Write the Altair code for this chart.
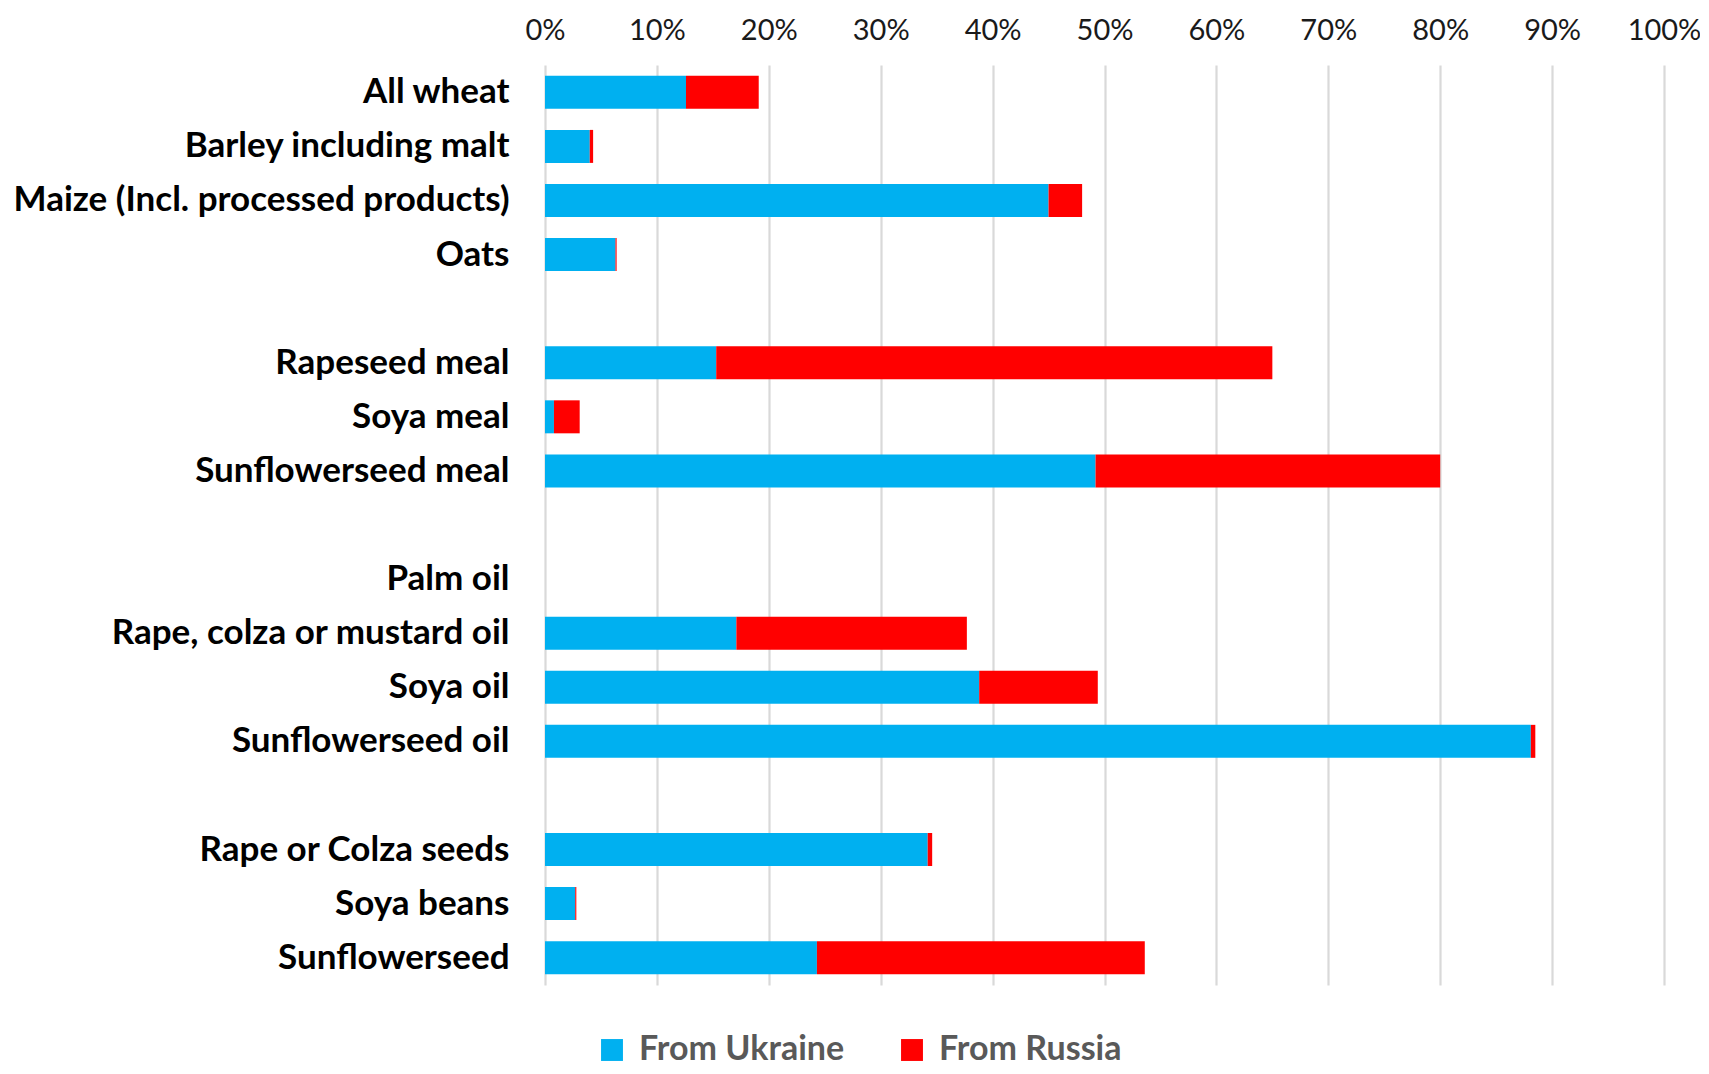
import altair as alt
import pandas as pd

categories = ["All wheat", "Barley including malt", "Maize (Incl. processed products)", "Oats", " ",
              "Rapeseed meal", "Soya meal", "Sunflowerseed meal", "  ",
              "Palm oil", "Rape, colza or mustard oil", "Soya oil", "Sunflowerseed oil", "   ",
              "Rape or Colza seeds", "Soya beans", "Sunflowerseed"]
from_ukraine = [0.126, 0.040, 0.450, 0.063, None,
                0.153, 0.008, 0.492, None,
                0.0, 0.171, 0.388, 0.881, None,
                0.342, 0.027, 0.243]
from_russia = [0.065, 0.003, 0.030, 0.001, None,
               0.497, 0.023, 0.308, None,
               0.0, 0.206, 0.106, 0.004, None,
               0.004, 0.001, 0.293]
series = ["From Ukraine", "From Russia"]
colors = ["#00b0f0", "#ff0000"]

rows = []
for c, u, r in zip(categories, from_ukraine, from_russia):
    if u is None:
        continue
    rows.append({"cat": c, "series": series[0], "value": u, "ord": 0})
    rows.append({"cat": c, "series": series[1], "value": r, "ord": 1})
df = pd.DataFrame(rows)

FONT = "Lato"

chart = alt.Chart(df).mark_bar().encode(
    y=alt.Y("cat:N", sort=categories,
            scale=alt.Scale(domain=categories, paddingInner=0.39, paddingOuter=0.2),
            axis=alt.Axis(title=None, domain=False, ticks=False, labelPadding=36,
                          labelFont=FONT, labelFontSize=35, labelFontWeight="bold",
                          labelColor="#000000", labelLimit=700)),
    x=alt.X("value:Q", stack="zero",
            scale=alt.Scale(domain=[0, 1], nice=False),
            axis=alt.Axis(title=None, orient="top", format=".0%",
                          values=[i / 10 for i in range(11)],
                          domain=False, ticks=False, labelPadding=20,
                          labelFont=FONT, labelFontSize=29, labelColor="#1a1a1a",
                          gridColor="#d9d9d9", gridWidth=2.2, labelFlush=False)),
    color=alt.Color("series:N",
                    scale=alt.Scale(domain=series, range=colors),
                    legend=alt.Legend(title=None, orient="none", direction="horizontal",
                                      legendX=50, legendY=968,
                                      symbolType="square", symbolSize=480,
                                      symbolStrokeWidth=0,
                                      labelFont=FONT, labelFontSize=34, labelLimit=500,
                                      labelFontWeight="bold", labelColor="#595959",
                                      columnPadding=50, labelOffset=10)),
    order=alt.Order("ord:Q"),
).properties(
    width=1119, height=920,
    autosize=alt.AutoSizeParams(type="none"),
    padding={"left": 537, "top": 57, "right": 36, "bottom": 88},
).configure_view(stroke=None)

chart.save("out.html", embed_options={"renderer": "svg", "actions": False})
